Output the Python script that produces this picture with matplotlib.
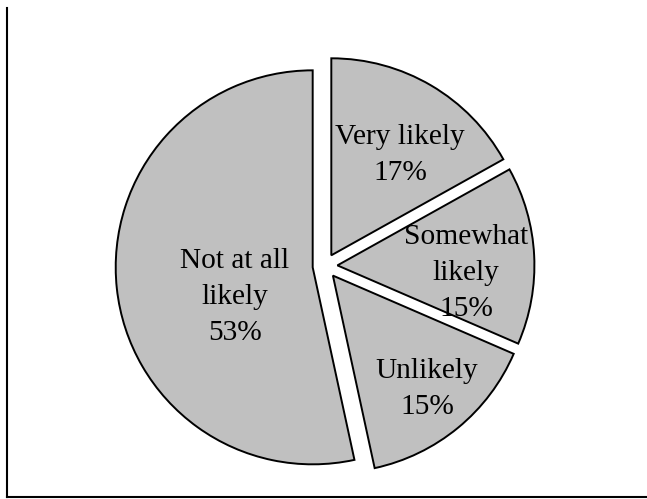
import matplotlib
matplotlib.use('Agg')
import matplotlib.pyplot as plt
from matplotlib.lines import Line2D

categories = ['Very likely', 'Somewhat\nlikely', 'Unlikely', 'Not at all\nlikely']
values = [16.9, 14.6, 15.1, 53.4]          # estimated shares (%), shown rounded

# label centres (in pie-radius units), style only
label_pos = [(0.381, 0.564), (0.716, -0.035), (0.518, -0.622), (-0.457, -0.155)]

fig = plt.figure(figsize=(6.47, 4.99), dpi=100)
ax = fig.add_axes([0, 0, 1, 1])
wedges, _ = ax.pie(values, startangle=90, counterclock=False,
                   explode=[0.063] * len(values), radius=1.0,
                   colors=['#C0C0C0'] * len(values),
                   wedgeprops=dict(edgecolor='black', linewidth=1.4))
ax.set_xlim(-1.650, 1.6345)
ax.set_ylim(-1.1827, 1.3503)
ax.set_aspect('auto')
ax.axis('off')

for cat, v, (x, y) in zip(categories, values, label_pos):
    ax.text(x, y, f'{cat}\n{round(v)}%', ha='center', va='center', fontsize=21.2,
            family='Liberation Serif', linespacing=1.5, color='black')

W, H = 647, 499
fig.add_artist(Line2D([7 / W, 7 / W], [1 - 8 / H, 1 - 497 / H], color='black', lw=1.5))
fig.add_artist(Line2D([7 / W, 1], [1 - 497 / H, 1 - 497 / H], color='black', lw=1.5))

fig.savefig('out.png', dpi=100)
